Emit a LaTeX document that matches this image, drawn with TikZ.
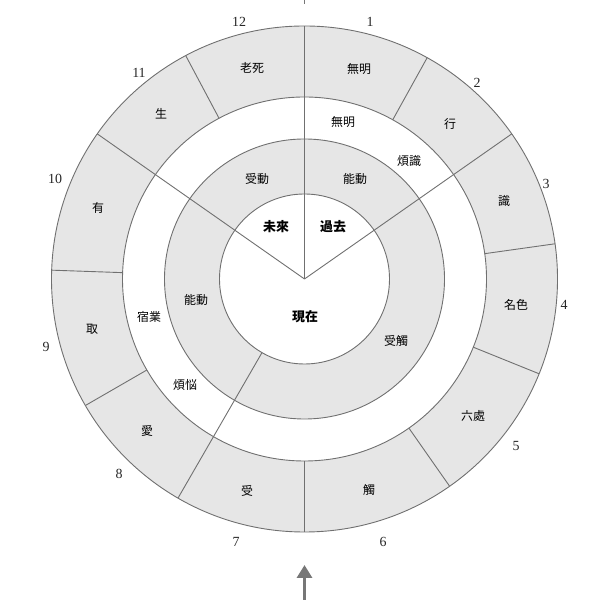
\documentclass[tikz,border=0pt]{standalone}
\usepackage{fontspec}
\setmainfont{Liberation Serif}
\newfontfamily\cjk{Noto Sans CJK JP}
\usetikzlibrary{arrows.meta}
\definecolor{linegray}{HTML}{707070}
\definecolor{cellgray}{HTML}{E6E6E6}
\definecolor{arrowgray}{HTML}{777777}
\begin{document}
\begin{tikzpicture}[x=1bp,y=1bp,
  wheel/.style={draw=linegray,line width=0.9bp},
  cell/.style={font=\cjk\fontsize{12}{14}\selectfont,inner sep=0pt},
  era/.style={font=\cjk\bfseries\fontsize{13}{15}\selectfont,inner sep=0pt},
  num/.style={font=\fontsize{14}{16}\selectfont,inner sep=0pt,text=black!85}]
\useasboundingbox (0,0) rectangle (600,600);
\coordinate (O) at (304.5,321);
\begin{scope}[shift={(O)}]
  \fill[cellgray,even odd rule] (0,0) circle (253) (0,0) circle (182);
  \fill[cellgray,even odd rule] (0,0) circle (140) (0,0) circle (85);
  \foreach \r in {253,182,140,85} \draw[wheel] (0,0) circle (\r);
  \foreach \a in {61,8,-22,-55,-90,-150,178,118} \draw[wheel] (\a:182) -- (\a:253);
  \draw[wheel] (0,0) -- (90:253);
  \draw[wheel] (0,0) -- (35:253);
  \draw[wheel] (0,0) -- (145:253);
  \draw[wheel] (-120:85) -- (-120:253);
\end{scope}
% outer ring labels
\node[cell] (roshi) at (252,532) {老死};
\node[cell] (mumyo1) at (359,531) {無明};
\node[cell] (gyo) at (450,476) {行};
\node[cell] (shiki) at (504,399) {識};
\node[cell] (myoshiki) at (516,295) {名色};
\node[cell] (rokusho) at (473,184) {六處};
\node[cell] (soku) at (369,110) {觸};
\node[cell] (ju) at (247,109) {受};
\node[cell] (ai) at (147,169) {愛};
\node[cell] (shu) at (92,271) {取};
\node[cell] (u) at (98,392) {有};
\node[cell] (sho) at (161,486) {生};
% numbers
\node[num] (n12) at (239,578) {12};
\node[num] (n1) at (370,578) {1};
\node[num] (n2) at (477,517) {2};
\node[num] (n3) at (546,416) {3};
\node[num] (n4) at (564,295) {4};
\node[num] (n5) at (516,154) {5};
\node[num] (n6) at (383,58) {6};
\node[num] (n7) at (236,58) {7};
\node[num] (n8) at (119,126) {8};
\node[num] (n9) at (46,253) {9};
\node[num] (n10) at (55,421) {10};
\node[num] (n11) at (139,527) {11};
% white ring labels
\node[cell] (mumyo2) at (343,478) {無明};
\node[cell] (bonshiki) at (409,439) {煩識};
\node[cell] (shukugo) at (149,283) {宿業};
\node[cell] (bonno) at (185,215) {煩悩};
% middle ring labels
\node[cell] (judo) at (257,421) {受動};
\node[cell] (nodo1) at (355,421) {能動};
\node[cell] (nodo2) at (196,300) {能動};
\node[cell] (jusoku) at (396,259) {受觸};
% centre labels
\node[era] (mirai) at (276,373) {未來};
\node[era] (kako) at (333,373) {過去};
\node[era] (genzai) at (305,283) {現在};
% arrows
\coordinate (arrowtail) at (304.5,0);
\coordinate (arrowtip) at (304.5,35);
\draw[arrowgray,line width=3.2bp,-{Triangle[width=15bp,length=13bp]}] (arrowtail) -- (arrowtip);
\coordinate (toptick) at (304.5,600);
\coordinate (toptickend) at (304.5,596);
\draw[arrowgray,line width=1.2bp] (toptick) -- (toptickend);
\end{tikzpicture}
\end{document}
